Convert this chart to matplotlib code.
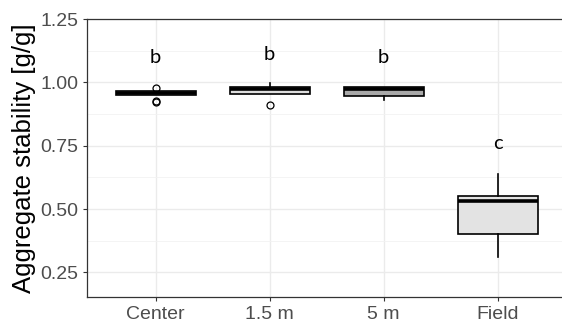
import matplotlib
matplotlib.use('Agg')
import matplotlib.pyplot as plt

sites = ['Center', '1.5 m', '5 m', 'Field']
q1 = [0.950, 0.955, 0.945, 0.400]
medians = [0.957, 0.975, 0.975, 0.530]
q3 = [0.964, 0.980, 0.980, 0.552]
whis_lo = [0.950, 0.955, 0.932, 0.312]
whis_hi = [0.964, 0.998, 0.980, 0.640]
outliers = [[0.979, 0.928, 0.924], [0.910], [], []]
letters = ['b', 'b', 'b', 'c']
letter_y = [1.10, 1.108, 1.10, 0.76]
fills = ['#ffffff', '#dedede', '#a9a9a9', '#e3e3e3']

plt.rcParams['font.family'] = ['Liberation Sans', 'DejaVu Sans']

fig = plt.figure(figsize=(5.62, 3.21), dpi=100)
ax = fig.add_axes([0.1553, 0.0757, 0.852, 0.8651])

stats = []
for i in range(len(sites)):
    stats.append(dict(q1=q1[i], med=medians[i], q3=q3[i], whislo=whis_lo[i],
                      whishi=whis_hi[i], fliers=outliers[i]))

pos = list(range(1, len(sites) + 1))
res = ax.bxp(stats, positions=pos, widths=0.7, patch_artist=True, showcaps=False,
             boxprops=dict(edgecolor='black', linewidth=1.2),
             whiskerprops=dict(color='black', linewidth=1.2),
             medianprops=dict(color='black', linewidth=2.6, solid_capstyle='butt'),
             flierprops=dict(marker='o', markersize=5, markerfacecolor='none',
                             markeredgecolor='black', markeredgewidth=0.9))
for patch, c in zip(res['boxes'], fills):
    patch.set_facecolor(c)
    patch.set_zorder(3)
for k in ['medians', 'whiskers', 'fliers']:
    for art in res[k]:
        art.set_zorder(4)

for x, lab, y in zip(pos, letters, letter_y):
    ax.text(x, y, lab, ha='center', va='center', fontsize=14.5, family='Lato')

ax.set_xlim(0.4, 4.6)
ax.set_ylim(0.154, 1.247)
ax.set_yticks([0.25, 0.50, 0.75, 1.00, 1.25])
ax.set_yticklabels(['0.25', '0.50', '0.75', '1.00', '1.25'])
ax.set_yticks([0.375, 0.625, 0.875, 1.125], minor=True)
ax.set_xticks(pos)
ax.set_xticklabels(sites)
ax.grid(which='major', color='#ebebeb', linewidth=1.0, zorder=0)
ax.grid(which='minor', axis='y', color='#f2f2f2', linewidth=0.6, zorder=0)
ax.set_axisbelow(True)
ax.tick_params(axis='both', which='major', labelsize=14, labelcolor='#4d4d4d',
               color='#333333', length=3, width=0.8)
ax.tick_params(axis='y', which='minor', length=0)
ax.set_ylabel('Aggregate stability [g/g]', fontsize=18.5, labelpad=3)
for s in ax.spines.values():
    s.set_color('#333333')
    s.set_linewidth(0.9)
ax.spines['right'].set_visible(False)

fig.savefig('out.png', dpi=100)
